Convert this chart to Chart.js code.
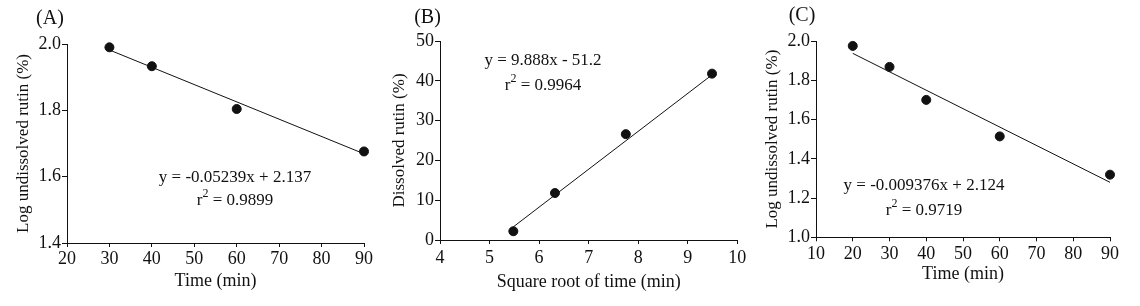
<!DOCTYPE html>
<html lang="en">
<head>
  <meta charset="UTF-8" />
  <title>Rutin dissolution</title>
  <script src="https://cdn.jsdelivr.net/npm/chart.js"></script>
  <style>
    body { margin: 0; background: #fff; }
    .panel { position: absolute; top: 0; width: 380px; height: 306px; }
  </style>
</head>
<body>

  <div class="panel" style="left:0px"><canvas id="chartA" width="380" height="306"></canvas></div>
  <div class="panel" style="left:380px"><canvas id="chartB" width="380" height="306"></canvas></div>
  <div class="panel" style="left:760px"><canvas id="chartC" width="380" height="306"></canvas></div>

  <script>
    // (A) log undissolved rutin vs time
    const timeA = [30, 40, 60, 90];
    const logA = [1.990, 1.933, 1.804, 1.676];
    const fitTimeA = [30, 90];
    const fitLogA = [1.982, 1.669];

    // (B) dissolved rutin vs square root of time
    const sqrtTimeB = [5.48, 6.32, 7.75, 9.49];
    const dissolvedB = [2.2, 11.8, 26.6, 41.8];
    const fitSqrtB = [5.48, 9.49];
    const fitDissolvedB = [3.3, 41.5];

    // (C) log undissolved rutin vs time
    const timeC = [20, 30, 40, 60, 90];
    const logC = [1.975, 1.868, 1.700, 1.514, 1.319];
    const fitTimeC = [20, 90];
    const fitLogC = [1.937, 1.280];

    const FONT = "'Liberation Serif', 'Times New Roman', serif";
    const INK = "#111";

    const toPoints = (xs, ys) => xs.map((x, i) => ({ x: x, y: ys[i] }));

    // text line with an optional superscript part: [base, sup, rest]
    function drawLine(ctx, parts, cx, cy) {
      const big = "17px " + FONT, small = "12px " + FONT;
      ctx.font = big;
      const w0 = ctx.measureText(parts[0]).width;
      const w2 = ctx.measureText(parts[2] || "").width;
      ctx.font = small;
      const w1 = parts[1] ? ctx.measureText(parts[1]).width : 0;
      let x = cx - (w0 + w1 + w2) / 2;
      ctx.textAlign = "left";
      ctx.font = big;
      ctx.fillText(parts[0], x, cy);
      x += w0;
      if (parts[1]) {
        ctx.font = small;
        ctx.fillText(parts[1], x, cy - 7);
        x += w1;
        ctx.font = big;
        ctx.fillText(parts[2], x, cy);
      }
    }

    // panel letter + regression text
    const notesPlugin = {
      id: "notes",
      afterDraw(chart, args, opts) {
        const ctx = chart.ctx;
        ctx.save();
        ctx.fillStyle = INK;
        ctx.textAlign = "center";
        ctx.textBaseline = "middle";
        ctx.font = "20px " + FONT;
        ctx.fillText(opts.letter, opts.letterX, opts.letterY);
        opts.lines.forEach((t, i) => drawLine(ctx, t, opts.textX, opts.textY[i]));
        ctx.restore();
      }
    };

    function createChart(canvasId, p) {
      return new Chart(document.getElementById(canvasId), {
        type: "scatter",
        data: {
          datasets: [
            {
              data: p.points,
              backgroundColor: INK,
              borderColor: INK,
              pointRadius: 4.5,
              showLine: false,
              clip: false
            },
            {
              data: p.fit,
              borderColor: INK,
              borderWidth: 1,
              pointRadius: 0,
              showLine: true,
              fill: false,
              clip: false
            }
          ]
        },
        options: {
          responsive: false,
          animation: false,
          layout: { padding: { left: 0, right: p.padRight, top: p.padTop, bottom: 0 } },
          plugins: {
            legend: { display: false },
            tooltip: { enabled: false },
            notes: p.notes
          },
          scales: {
            x: {
              type: "linear",
              min: p.xMin, max: p.xMax,
              afterFit: (s) => { s.height = p.xHeight; },
              grid: { drawOnChartArea: false, tickLength: 4, tickColor: INK },
              border: { color: INK, width: 1 },
              ticks: {
                stepSize: p.xStep,
                padding: p.xPad,
                color: INK,
                font: { family: FONT, size: 18, lineHeight: 1 },
                maxRotation: 0
              },
              title: {
                display: true,
                text: p.xTitle,
                color: INK,
                font: { family: FONT, size: 18, lineHeight: 1 },
                padding: { top: 0, bottom: p.xTitlePad }
              }
            },
            y: {
              type: "linear",
              min: p.yMin, max: p.yMax,
              afterFit: (s) => { s.width = p.yWidth; },
              grid: { drawOnChartArea: false, tickLength: 5, tickColor: INK },
              border: { color: INK, width: 1 },
              ticks: {
                stepSize: p.yStep,
                padding: 1,
                color: INK,
                font: { family: FONT, size: 18, lineHeight: 1 },
                callback: (v) => v.toFixed(p.yDec)
              },
              title: {
                display: true,
                text: p.yTitle,
                color: INK,
                font: { family: FONT, size: 17, lineHeight: 1 },
                padding: { top: p.yTitlePad, bottom: 0 }
              }
            }
          }
        },
        plugins: [notesPlugin]
      });
    }

    createChart("chartA", {
      points: toPoints(timeA, logA),
      fit: toPoints(fitTimeA, fitLogA),
      xMin: 20, xMax: 90, xStep: 10,
      yMin: 1.4, yMax: 2.0, yStep: 0.2, yDec: 1,
      xTitle: "Time (min)",
      yTitle: "Log undissolved rutin (%)",
      padRight: 16, padTop: 44, yWidth: 67, xHeight: 63,
      xPad: 3, xTitlePad: 16, yTitlePad: 15.5,
      notes: {
        letter: "(A)", letterX: 50, letterY: 19,
        lines: [["y = -0.05239x + 2.137"], ["r", "2", " = 0.9899"]],
        textX: 235, textY: [178, 201]
      }
    });

    createChart("chartB", {
      points: toPoints(sqrtTimeB, dissolvedB),
      fit: toPoints(fitSqrtB, fitDissolvedB),
      xMin: 4, xMax: 10, xStep: 1,
      yMin: 0, yMax: 50, yStep: 10, yDec: 0,
      xTitle: "Square root of time (min)",
      yTitle: "Dissolved rutin (%)",
      padRight: 22.7, padTop: 41, yWidth: 60, xHeight: 66,
      xPad: 5.5, xTitlePad: 14.5, yTitlePad: 11.5,
      notes: {
        letter: "(B)", letterX: 47.5, letterY: 17.5,
        lines: [["y = 9.888x - 51.2"], ["r", "2", " = 0.9964"]],
        textX: 163, textY: [61, 86]
      }
    });

    createChart("chartC", {
      points: toPoints(timeC, logC),
      fit: toPoints(fitTimeC, fitLogC),
      xMin: 10, xMax: 90, xStep: 10,
      yMin: 1.0, yMax: 2.0, yStep: 0.2, yDec: 1,
      xTitle: "Time (min)",
      yTitle: "Log undissolved rutin (%)",
      padRight: 30, padTop: 41, yWidth: 56, xHeight: 68.7,
      xPad: 4, xTitlePad: 23, yTitlePad: 4.5,
      notes: {
        letter: "(C)", letterX: 42, letterY: 16,
        lines: [["y = -0.009376x + 2.124"], ["r", "2", " = 0.9719"]],
        textX: 164, textY: [186, 211]
      }
    });
  </script>
</body>
</html>
